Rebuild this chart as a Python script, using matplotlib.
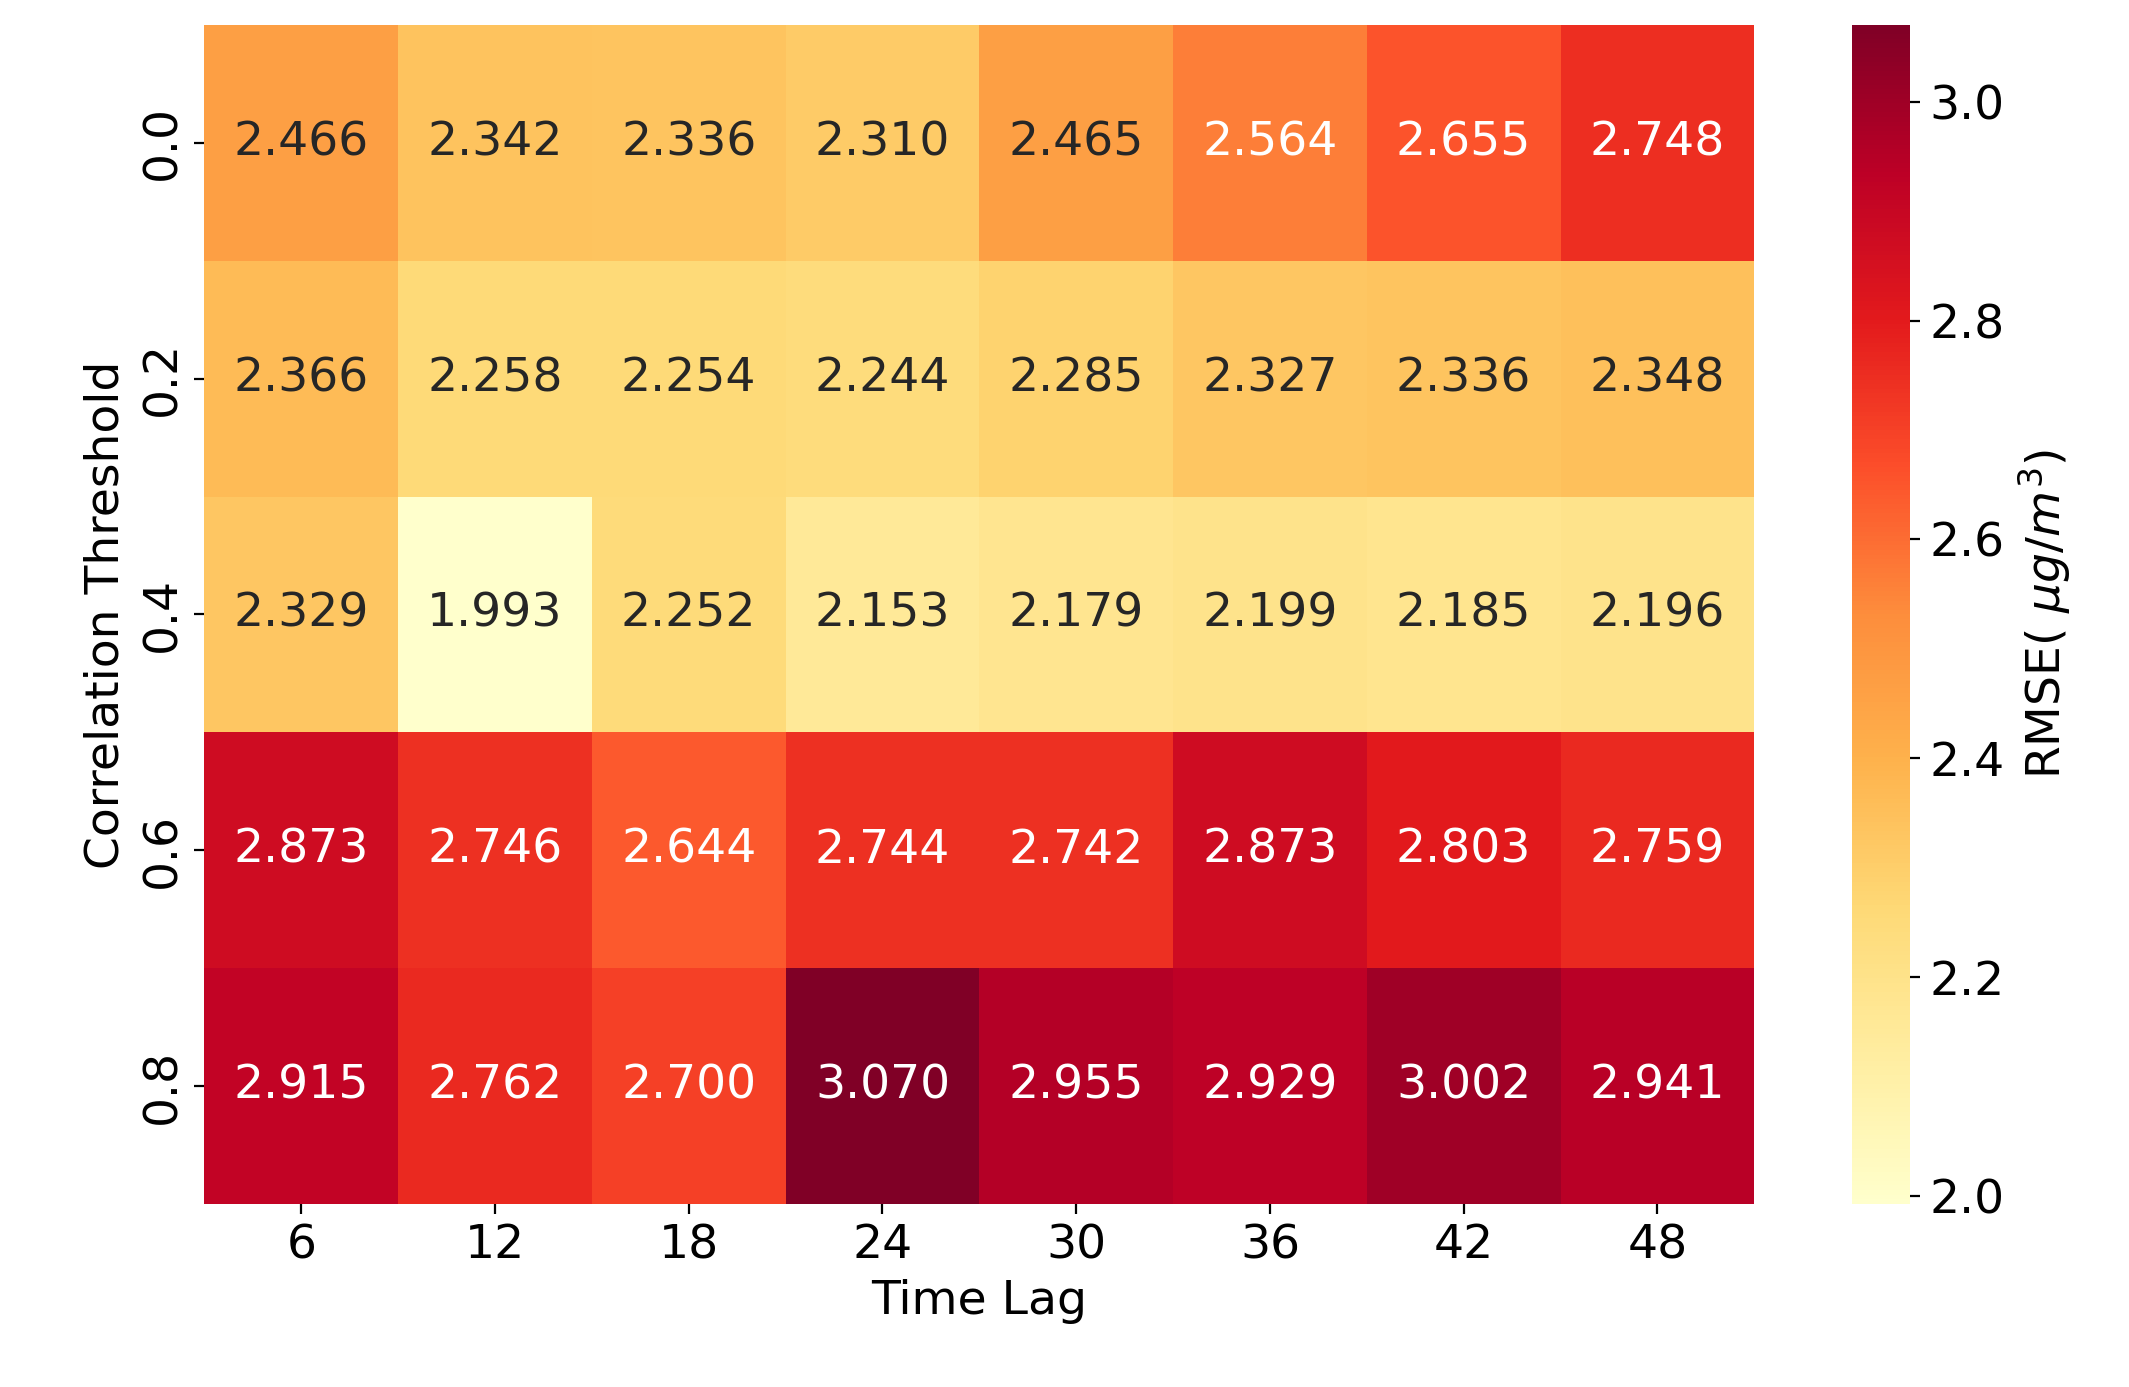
import matplotlib
matplotlib.use("Agg")
import matplotlib.pyplot as plt
import seaborn as sns
import numpy as np

time_lags = [6, 12, 18, 24, 30, 36, 42, 48]
thresholds = ["0.0", "0.2", "0.4", "0.6", "0.8"]
row_00 = [2.466, 2.342, 2.336, 2.310, 2.465, 2.564, 2.655, 2.748]
row_02 = [2.366, 2.258, 2.254, 2.244, 2.285, 2.327, 2.336, 2.348]
row_04 = [2.329, 1.993, 2.252, 2.153, 2.179, 2.199, 2.185, 2.196]
row_06 = [2.873, 2.746, 2.644, 2.744, 2.742, 2.873, 2.803, 2.759]
row_08 = [2.915, 2.762, 2.700, 3.070, 2.955, 2.929, 3.002, 2.941]
data = np.array([row_00, row_02, row_04, row_06, row_08])

fig = plt.figure(figsize=(10.645, 6.935), dpi=200)
ax = fig.add_axes([0.096, 0.132, 0.728, 0.85])
cax = fig.add_axes([0.870, 0.132, 0.027, 0.85])
sns.heatmap(data, ax=ax, cbar_ax=cax, cmap="YlOrRd", annot=True, fmt=".3f",
            annot_kws={"fontsize": 17}, xticklabels=time_lags, yticklabels=thresholds)
ax.set_xlabel("Time Lag", fontsize=17)
ax.set_ylabel("Correlation Threshold", fontsize=17)
ax.tick_params(labelsize=17)
cax.tick_params(labelsize=17)
cax.set_ylabel(r"RMSE( $\mu g/m^3$)", fontsize=17)
fig.savefig("out.png", dpi=200)
